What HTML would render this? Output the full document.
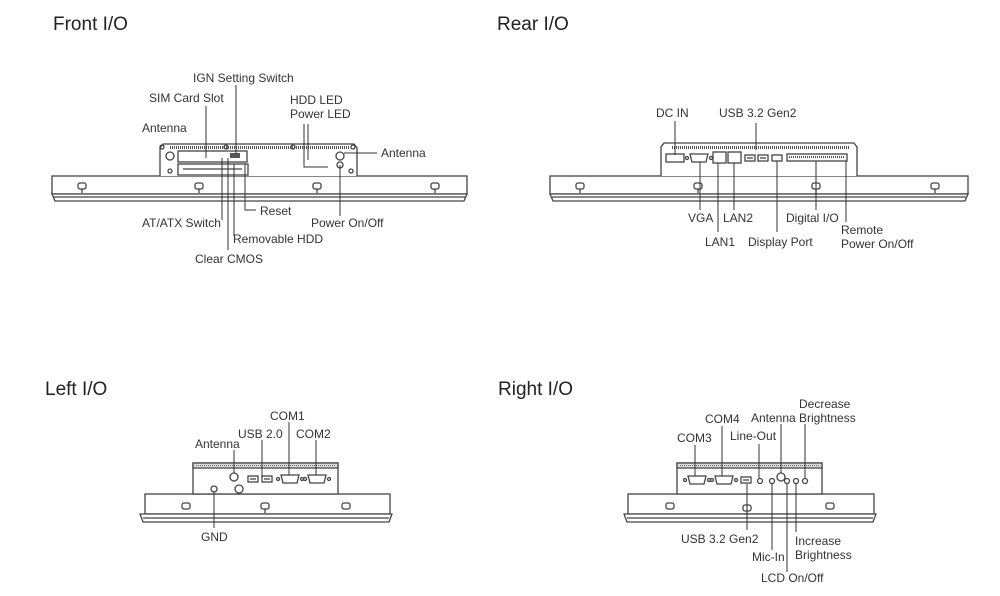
<!DOCTYPE html>
<html><head><meta charset="utf-8"><style>
html,body{margin:0;padding:0;background:#fff;}
svg{display:block;font-family:"Liberation Sans",sans-serif;}
.t{font-size:19px;fill:#222;}
.l{font-size:12px;fill:#333;}
.s{stroke:#444;stroke-width:1.3;fill:none;}
.f{stroke:#444;stroke-width:1.3;fill:#fff;}
.ln{stroke:#333;stroke-width:1;fill:none;}
</style></head><body>
<svg width="1000" height="596" viewBox="0 0 1000 596">
<defs>
<g id="knob"><rect x="-4" y="0" width="8" height="6" rx="2" class="f"/><line x1="0" y1="6" x2="0" y2="10" class="s"/></g>
<g id="db9"><path d="M-9,-4 L9,-4 L7,4 L-7,4 Z" class="f"/><circle cx="-12" cy="0" r="1.5" class="s"/><circle cx="12" cy="0" r="1.5" class="s"/></g>
<g id="usb"><rect x="-5" y="-3" width="10" height="6" class="f"/><line x1="-3" y1="0" x2="3" y2="0" class="s"/></g>
</defs>

<text x="53" y="30" class="t">Front I/O</text>
<text x="497" y="30" class="t">Rear I/O</text>
<text x="45" y="395" class="t">Left I/O</text>
<text x="498" y="395" class="t">Right I/O</text>

<!-- FRONT -->
<g>
<rect x="52" y="176" width="415" height="18" class="f"/>
<path d="M52,194 L467,194 L464,201 L55,201 Z" class="f"/>
<line x1="54" y1="197" x2="465" y2="197" class="s"/>
<path d="M160,176 L160,148 L163,144 L354,144 L357,148 L357,176" class="f"/>
<line x1="170" y1="147.5" x2="350" y2="147.5" stroke="#555" stroke-width="3" stroke-dasharray="1,1"/>
<circle cx="170" cy="156" r="4" class="s"/>
<circle cx="162" cy="147" r="2" class="s"/><circle cx="226" cy="147" r="2" class="s"/><circle cx="293" cy="147" r="2" class="s"/><circle cx="353" cy="147" r="2" class="s"/>
<rect x="178" y="151" width="69" height="11" class="s"/>
<rect x="178" y="164" width="70" height="11" class="s"/>
<line x1="183" y1="169" x2="242" y2="169" class="s"/>
<rect x="230" y="153" width="10" height="5" fill="#555"/>
<circle cx="340" cy="156" r="4" class="s"/>
<circle cx="340" cy="165" r="3" class="s"/>
<circle cx="170" cy="171" r="2" class="s"/><circle cx="351" cy="171" r="2" class="s"/>
<use href="#knob" x="82" y="183"/><use href="#knob" x="199" y="183"/><use href="#knob" x="317" y="183"/><use href="#knob" x="435" y="183"/>
<line x1="206" y1="106" x2="206" y2="158" class="ln"/>
<line x1="236" y1="85" x2="236" y2="154" class="ln"/>
<polyline points="304,124 304,167 328,167" class="ln"/>
<polyline points="308,124 308,160" class="ln"/>
<line x1="344" y1="153" x2="377" y2="153" class="ln"/>
<line x1="340" y1="165" x2="340" y2="216" class="ln"/>
<line x1="222" y1="158" x2="222" y2="220" class="ln"/>
<line x1="228" y1="158" x2="228" y2="250" class="ln"/>
<line x1="234" y1="164" x2="234" y2="236" class="ln"/>
<polyline points="245,164 245,210 256,210" class="ln"/>
<text x="142" y="132" class="l">Antenna</text>
<text x="149" y="102" class="l">SIM Card Slot</text>
<text x="193" y="82" class="l">IGN Setting Switch</text>
<text x="290" y="104" class="l">HDD LED</text>
<text x="290" y="118" class="l">Power LED</text>
<text x="381" y="157" class="l">Antenna</text>
<text x="260" y="215" class="l">Reset</text>
<text x="311" y="227" class="l">Power On/Off</text>
<text x="142" y="227" class="l">AT/ATX Switch</text>
<text x="233" y="243" class="l">Removable HDD</text>
<text x="195" y="263" class="l">Clear CMOS</text>
</g>

<!-- REAR -->
<g>
<rect x="550" y="176" width="418" height="18" class="f"/>
<path d="M550,194 L968,194 L965,201 L553,201 Z" class="f"/>
<line x1="552" y1="197" x2="966" y2="197" class="s"/>
<path d="M661,176 L661,147 L664,143 L854,143 L857,147 L857,176" class="f"/>
<line x1="672" y1="147.5" x2="850" y2="147.5" stroke="#555" stroke-width="3" stroke-dasharray="1,1"/>
<rect x="666" y="154" width="18" height="8" class="f"/>
<use href="#db9" x="699" y="158"/>
<rect x="713" y="152" width="13" height="11" class="f"/>
<rect x="728" y="152" width="13" height="11" class="f"/>
<use href="#usb" x="750" y="158"/><use href="#usb" x="763" y="158"/>
<rect x="772" y="155" width="10" height="6" class="f"/>
<rect x="787" y="154" width="60" height="7" class="f"/>
<line x1="789" y1="157" x2="845" y2="157" stroke="#555" stroke-width="2" stroke-dasharray="1,1"/>
<use href="#knob" x="580" y="183"/><use href="#knob" x="698" y="183"/><use href="#knob" x="816" y="183"/><use href="#knob" x="935" y="183"/>
<line x1="675" y1="121" x2="675" y2="155" class="ln"/>
<line x1="756" y1="123" x2="756" y2="150" class="ln"/>
<line x1="700" y1="162" x2="700" y2="210" class="ln"/>
<line x1="718" y1="163" x2="718" y2="232" class="ln"/>
<line x1="734" y1="163" x2="734" y2="210" class="ln"/>
<line x1="777" y1="161" x2="777" y2="232" class="ln"/>
<line x1="816" y1="161" x2="816" y2="210" class="ln"/>
<line x1="846" y1="161" x2="846" y2="222" class="ln"/>
<text x="656" y="117" class="l">DC IN</text>
<text x="719" y="117" class="l">USB 3.2 Gen2</text>
<text x="688" y="222" class="l">VGA</text>
<text x="723" y="222" class="l">LAN2</text>
<text x="786" y="222" class="l">Digital I/O</text>
<text x="705" y="246" class="l">LAN1</text>
<text x="748" y="246" class="l">Display Port</text>
<text x="841" y="234" class="l">Remote</text>
<text x="841" y="248" class="l">Power On/Off</text>
</g>

<!-- LEFT -->
<g>
<rect x="145" y="494" width="245" height="20" class="f"/>
<path d="M140,514 L392,514 L389,522 L143,522 Z" class="f"/>
<line x1="143" y1="518" x2="389" y2="518" class="s"/>
<rect x="193" y="463" width="145" height="31" class="f"/>
<rect x="193" y="463" width="145" height="5" fill="#ddd" stroke="#444" stroke-width="1.3"/>
<line x1="196" y1="465.5" x2="335" y2="465.5" stroke="#666" stroke-dasharray="1,1"/>
<circle cx="234" cy="477" r="4" class="s"/>
<use href="#usb" x="253" y="479"/><use href="#usb" x="267" y="479"/>
<use href="#db9" x="290" y="479"/><use href="#db9" x="317" y="479"/>
<circle cx="214" cy="489" r="3" class="s"/>
<circle cx="239" cy="489" r="4" class="s"/>
<rect x="182" y="503" width="8" height="6" rx="2" class="s"/>
<rect x="342" y="503" width="8" height="6" rx="2" class="s"/>
<use href="#knob" x="265" y="503"/>
<line x1="234" y1="450" x2="234" y2="473" class="ln"/>
<line x1="262" y1="440" x2="262" y2="476" class="ln"/>
<line x1="289" y1="422" x2="289" y2="475" class="ln"/>
<line x1="316" y1="440" x2="316" y2="475" class="ln"/>
<line x1="214" y1="492" x2="214" y2="528" class="ln"/>
<text x="195" y="448" class="l">Antenna</text>
<text x="238" y="438" class="l">USB 2.0</text>
<text x="270" y="420" class="l">COM1</text>
<text x="296" y="438" class="l">COM2</text>
<text x="201" y="541" class="l">GND</text>
</g>

<!-- RIGHT -->
<g>
<rect x="628" y="494" width="246" height="20" class="f"/>
<path d="M624,514 L876,514 L873,522 L627,522 Z" class="f"/>
<line x1="627" y1="518" x2="873" y2="518" class="s"/>
<rect x="677" y="463" width="145" height="31" class="f"/>
<rect x="677" y="463" width="145" height="5" fill="#ddd" stroke="#444" stroke-width="1.3"/>
<line x1="680" y1="465.5" x2="819" y2="465.5" stroke="#666" stroke-dasharray="1,1"/>
<use href="#db9" x="697" y="480"/><use href="#db9" x="724" y="480"/>
<use href="#usb" x="746" y="480"/>
<circle cx="760" cy="481" r="2.5" class="s"/>
<circle cx="772" cy="481" r="2.5" class="s"/>
<circle cx="781" cy="477" r="4" class="s"/>
<circle cx="787" cy="481" r="2.5" class="s"/><circle cx="796" cy="481" r="2.5" class="s"/><circle cx="805" cy="481" r="2.5" class="s"/>
<rect x="666" y="503" width="8" height="6" rx="2" class="s"/>
<rect x="826" y="503" width="8" height="6" rx="2" class="s"/>
<use href="#knob" x="747" y="505"/>
<line x1="695" y1="445" x2="695" y2="476" class="ln"/>
<line x1="722" y1="426" x2="722" y2="476" class="ln"/>
<line x1="759" y1="444" x2="759" y2="478" class="ln"/>
<line x1="781" y1="424" x2="781" y2="473" class="ln"/>
<line x1="805" y1="424" x2="805" y2="478" class="ln"/>
<line x1="747" y1="484" x2="747" y2="530" class="ln"/>
<line x1="772" y1="484" x2="772" y2="550" class="ln"/>
<line x1="787" y1="484" x2="787" y2="572" class="ln"/>
<line x1="796" y1="484" x2="796" y2="532" class="ln"/>
<text x="677" y="442" class="l">COM3</text>
<text x="705" y="423" class="l">COM4</text>
<text x="730" y="440" class="l">Line-Out</text>
<text x="751" y="422" class="l">Antenna</text>
<text x="799" y="408" class="l">Decrease</text>
<text x="799" y="422" class="l">Brightness</text>
<text x="681" y="543" class="l">USB 3.2 Gen2</text>
<text x="795" y="545" class="l">Increase</text>
<text x="795" y="559" class="l">Brightness</text>
<text x="752" y="561" class="l">Mic-In</text>
<text x="761" y="582" class="l">LCD On/Off</text>
</g>
</svg>
</body></html>
